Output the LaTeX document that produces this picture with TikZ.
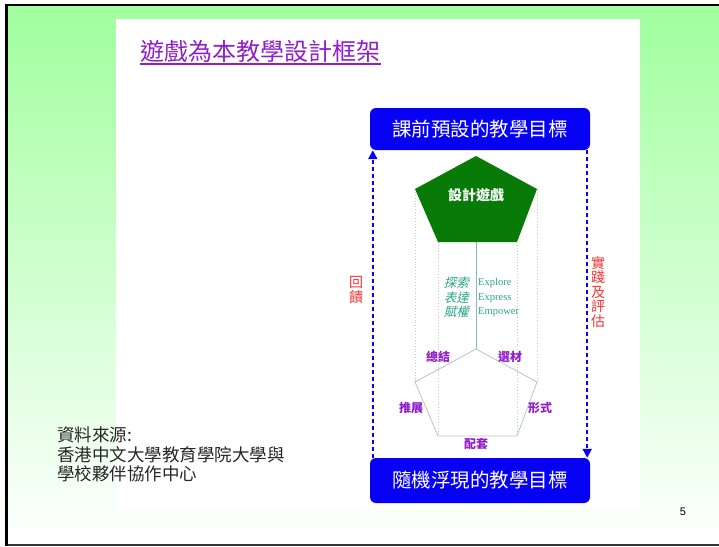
\documentclass[tikz,border=0pt]{standalone}
\usepackage{fontspec}
\usepackage{tikz}
\setmainfont{Liberation Serif}
\setsansfont{Liberation Sans}
\newfontfamily\cjk{Noto Sans CJK TC}
\newfontfamily\cjkit[FakeSlant=0.25]{Noto Sans CJK TC}
\definecolor{bggreen}{RGB}{160,255,158}
\definecolor{goalblue}{RGB}{6,0,245}
\definecolor{gamegreen}{RGB}{8,122,8}
\definecolor{edgegray}{RGB}{185,205,195}
\definecolor{midgray}{RGB}{140,185,165}
\definecolor{tealtext}{RGB}{40,165,135}
\definecolor{lblpurple}{RGB}{145,30,205}
\definecolor{fbred}{RGB}{250,50,50}
\tikzset{
	goalbox/.style={fill=goalblue,text=white,rounded corners=6pt,minimum width=220pt,inner sep=0pt,font=\cjk\fontsize{19.5}{19.5}\selectfont},
	looparrow/.style={goalblue,line width=2pt,dash pattern=on 4pt off 3pt,-{Triangle[length=9pt,width=9pt]}},
	sidelabel/.style={fbred,align=center,inner sep=0pt,font=\cjk\fontsize{14}{14.5}\selectfont},
	partlabel/.style={lblpurple,inner sep=0pt,font=\cjk\bfseries\fontsize{12}{12}\selectfont},
	prism/.style={edgegray,line width=0.9pt},
}
\usetikzlibrary{arrows.meta}
\begin{document}
\begin{tikzpicture}[x=1pt,y=-1pt]
	\useasboundingbox (0,0) rectangle (719,546);
	\shade[top color=bggreen,middle color=bggreen!55!white,bottom color=white] (6,5) rectangle (719,545);
	\fill[white] (116,19) rectangle (640,510);
	\draw[black!80,line width=1.2pt] (6.5,545) -- (719,545);
	\draw[line width=2.6pt] (6.5,546) -- (6.5,5) -- (719,5);

	\node[lblpurple,inner sep=0pt,font=\cjk\fontsize{24}{24}\selectfont] (title) at (260.5,51) {遊戲為本教學設計框架};
	\draw[lblpurple,line width=1.4pt] ([yshift=-1.5pt]title.south west) -- ([yshift=-1.5pt]title.south east);

	\node[goalbox,minimum height=42pt] (pre) at (480,129) {課前預設的教學目標};
	\node[goalbox,minimum height=45pt] (post) at (480,480.5) {隨機浮現的教學目標};
	\draw[looparrow] ([xshift=3pt]post.north west) -- ([xshift=3pt]pre.south west);
	\draw[looparrow] ([xshift=-3pt]pre.south east) -- ([xshift=-3pt]post.north east);
	\node[sidelabel] (feedback) at (356,290) {回\\饋};
	\node[sidelabel] (practice) at (598,292) {實\\踐\\及\\評\\估};

	\coordinate (gt) at (476,156);
	\coordinate (gl) at (415,189);
	\coordinate (gr) at (537,189);
	\coordinate (gbl) at (438,242);
	\coordinate (gbr) at (517,242);
	\coordinate (gbm) at (476,242);
	\coordinate (bt) at (476,349);
	\coordinate (bl) at (415,382);
	\coordinate (br) at (537,382);
	\coordinate (bbl) at (438,436);
	\coordinate (bbr) at (517,436);
	\draw[prism,dotted] (gl) -- (bl);
	\draw[prism,dotted] (gr) -- (br);
	\draw[prism,dotted] (gbl) -- (bbl);
	\draw[prism,dotted] (gbr) -- (bbr);
	\draw[midgray,line width=0.8pt] (gbm) -- (bt);
	\draw[prism] (bl) -- (bt) -- (br) -- (bbr) -- (bbl) -- cycle;
	\fill[gamegreen] (gt) -- (gr) -- (gbr) -- (gbl) -- (gl) -- cycle;
	\node[white,inner sep=0pt,font=\cjk\bfseries\fontsize{14}{14}\selectfont] (game) at (476,195) {設計遊戲};

	\node[tealtext,anchor=east,align=right,inner sep=0pt,font=\cjkit\fontsize{12.5}{14.5}\selectfont] (zh) at (469,297.5) {探索\\表達\\賦權};
	\node[tealtext,anchor=west,align=left,inner sep=0pt,font=\fontsize{10.5}{14.5}\selectfont] (en) at (478,297.5) {Explore\\Express\\Empower};

	\node[partlabel] (sum) at (438,357) {總結};
	\node[partlabel] (mat) at (510,357) {選材};
	\node[partlabel] (ext) at (411,408) {推展};
	\node[partlabel] (form) at (540,408) {形式};
	\node[partlabel] (supp) at (476,444) {配套};

	\node[black!85,anchor=north west,align=left,inner sep=0pt,font=\cjk\fontsize{17.5}{19.5}\selectfont] (src) at (57,427) {資料來源:\\香港中文大學教育學院大學與\\學校夥伴協作中心};
	\node[inner sep=0pt,font=\sffamily\fontsize{11}{11}\selectfont] (page) at (683,512) {5};
\end{tikzpicture}
\end{document}
